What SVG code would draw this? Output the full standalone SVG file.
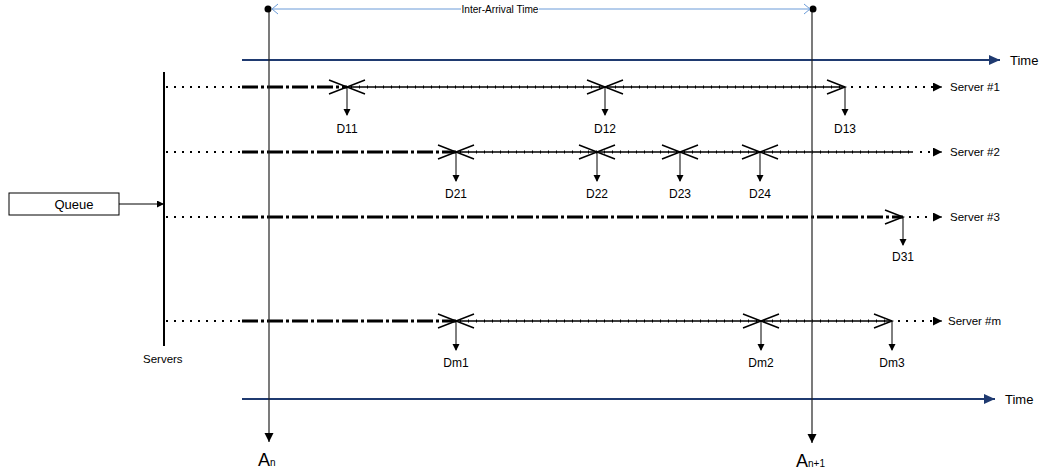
<svg xmlns="http://www.w3.org/2000/svg" width="1047" height="472" viewBox="0 0 1047 472">
<style>
text{font-family:"Liberation Sans",Arial,sans-serif;fill:#000}
.lbl{font-size:11.5px}
.d{font-size:12px;text-anchor:middle}
.dot{stroke:#000;stroke-width:2;stroke-dasharray:2 6;fill:none}
.dd{stroke:#000;stroke-width:3;stroke-dasharray:16 3 3 3;fill:none}
.sol{stroke:#000;stroke-width:1.5;fill:none}
.tk{stroke:#000;stroke-width:3;stroke-dasharray:1 7;fill:none}
.x{stroke:#000;stroke-width:1.5;fill:none}
.dn{stroke:#000;stroke-width:1;fill:none;marker-end:url(#ah)}
.axis{stroke:#1f3a70;stroke-width:2;fill:none;marker-end:url(#nav)}
.vl{stroke:#222;stroke-width:1.2;fill:none;marker-end:url(#big)}
</style>
<defs>
<marker id="ah" markerWidth="8" markerHeight="8" refX="6" refY="3.5" orient="auto" markerUnits="userSpaceOnUse"><path d="M0,0 L7,3.5 L0,7 z" fill="#000"/></marker>
<marker id="big" markerWidth="12" markerHeight="12" refX="9" refY="4.5" orient="auto" markerUnits="userSpaceOnUse"><path d="M0,0 L9,4.5 L0,9 z" fill="#000"/></marker>
<marker id="nav" markerWidth="14" markerHeight="14" refX="11" refY="5" orient="auto" markerUnits="userSpaceOnUse"><path d="M0,0 L11,5 L0,10 z" fill="#1f3a70"/></marker>
<marker id="srv" markerWidth="12" markerHeight="12" refX="9" refY="4.5" orient="auto" markerUnits="userSpaceOnUse"><path d="M0,0 L9,4.5 L0,9 z" fill="#000"/></marker>
</defs>

<g id="queue">
<rect x="9" y="193" width="110" height="22" fill="#fff" stroke="#000" stroke-width="1"/>
<text x="74" y="208.5" font-size="13" text-anchor="middle">Queue</text>
</g>

<g id="servers">
<line x1="164" y1="72" x2="164" y2="346" stroke="#000" stroke-width="2"/>
<text x="143" y="363" class="lbl">Servers</text>
</g>

<g id="time-top">
<line x1="242" y1="60" x2="1000" y2="60" class="axis"/>
<text x="1010" y="65" font-size="13">Time</text>
</g>
<g id="time-bottom">
<line x1="242" y1="399" x2="995" y2="399" class="axis"/>
<text x="1005" y="404" font-size="13">Time</text>
</g>

<g id="server1">
<line x1="166" y1="87" x2="240" y2="87" class="dot"/>
<line x1="242" y1="87" x2="347" y2="87" class="dd"/>
<line x1="347" y1="87" x2="845" y2="87" class="sol"/>
<line x1="351" y1="87" x2="845" y2="87" class="tk"/>
<line x1="851" y1="87" x2="934" y2="87" class="dot"/>
<line x1="934" y1="87" x2="942" y2="87" stroke="#000" stroke-width="1" marker-end="url(#srv)"/>
<text x="950" y="91" class="lbl">Server #1</text>
</g>

<g id="server2">
<line x1="166" y1="152" x2="240" y2="152" class="dot"/>
<line x1="242" y1="152" x2="456" y2="152" class="dd"/>
<line x1="456" y1="152" x2="913" y2="152" class="sol"/>
<line x1="460" y1="152" x2="913" y2="152" class="tk"/>
<line x1="920" y1="152" x2="934" y2="152" class="dot"/>
<line x1="934" y1="152" x2="942" y2="152" stroke="#000" stroke-width="1" marker-end="url(#srv)"/>
<text x="950" y="156" class="lbl">Server #2</text>
</g>

<g id="server3">
<line x1="166" y1="217" x2="240" y2="217" class="dot"/>
<line x1="242" y1="217" x2="903" y2="217" class="dd"/>
<line x1="909" y1="217" x2="934" y2="217" class="dot"/>
<line x1="934" y1="217" x2="942" y2="217" stroke="#000" stroke-width="1" marker-end="url(#srv)"/>
<text x="950" y="221" class="lbl">Server #3</text>
</g>

<g id="serverm">
<line x1="166" y1="321" x2="240" y2="321" class="dot"/>
<line x1="242" y1="321" x2="456" y2="321" class="dd"/>
<line x1="456" y1="321" x2="892" y2="321" class="sol"/>
<line x1="460" y1="321" x2="892" y2="321" class="tk"/>
<line x1="898" y1="321" x2="934" y2="321" class="dot"/>
<line x1="934" y1="321" x2="942" y2="321" stroke="#000" stroke-width="1" marker-end="url(#srv)"/>
<text x="948" y="325" class="lbl">Server #m</text>
</g>

<g id="arrivals">
<line x1="269" y1="9" x2="269" y2="442" class="vl"/>
<circle cx="268" cy="9" r="3.5" fill="#000"/>
<text x="258" y="466" font-size="18">A<tspan font-size="10">n</tspan></text>
<line x1="812" y1="9" x2="812" y2="443" class="vl"/>
<circle cx="813" cy="9" r="3.5" fill="#000"/>
<text x="796" y="467" font-size="18">A<tspan font-size="10">n+1</tspan></text>
</g>

<g id="inter-arrival">
<line x1="272" y1="9" x2="461" y2="9" stroke="#6a9bd8" stroke-width="1"/>
<line x1="539" y1="9" x2="810" y2="9" stroke="#6a9bd8" stroke-width="1"/>
<path d="M278,4 L272,9 L278,14 M804,4 L810,9 L804,14" stroke="#6a9bd8" stroke-width="1" fill="none"/>
<text x="500" y="13" font-size="11" text-anchor="middle" textLength="77" lengthAdjust="spacingAndGlyphs">Inter-Arrival Time</text>
</g>

<g id="connectors">
<line x1="119" y1="204" x2="163" y2="204" stroke="#000" stroke-width="1" marker-end="url(#ah)"/>
<path class="x" d="M329,80 L347,87 L329,94 M365,80 L347,87 L365,94"/>
<path class="x" d="M587,80 L605,87 L587,94 M623,80 L605,87 L623,94"/>
<path class="x" d="M827,80 L845,87 L827,94"/>
<path class="x" d="M438,145 L456,152 L438,159 M474,145 L456,152 L474,159"/>
<path class="x" d="M579,145 L597,152 L579,159 M615,145 L597,152 L615,159"/>
<path class="x" d="M662,145 L680,152 L662,159 M698,145 L680,152 L698,159"/>
<path class="x" d="M742,145 L760,152 L742,159 M778,145 L760,152 L778,159"/>
<path class="x" d="M885,210 L903,217 L885,224"/>
<path class="x" d="M438,314 L456,321 L438,328 M474,314 L456,321 L474,328"/>
<path class="x" d="M743,314 L761,321 L743,328 M779,314 L761,321 L779,328"/>
<path class="x" d="M874,314 L892,321 L874,328"/>
<line x1="347" y1="87" x2="347" y2="115" class="dn"/>
<line x1="605" y1="87" x2="605" y2="115" class="dn"/>
<line x1="845" y1="87" x2="845" y2="115" class="dn"/>
<line x1="456" y1="152" x2="456" y2="181" class="dn"/>
<line x1="597" y1="152" x2="597" y2="181" class="dn"/>
<line x1="680" y1="152" x2="680" y2="181" class="dn"/>
<line x1="760" y1="152" x2="760" y2="181" class="dn"/>
<line x1="903" y1="217" x2="903" y2="245" class="dn"/>
<line x1="456" y1="321" x2="456" y2="350" class="dn"/>
<line x1="761" y1="321" x2="761" y2="350" class="dn"/>
<line x1="892" y1="321" x2="892" y2="350" class="dn"/>
</g>

<g id="departure-labels">
<text x="347" y="133" class="d">D11</text>
<text x="605" y="133" class="d">D12</text>
<text x="845" y="133" class="d">D13</text>
<text x="456" y="198" class="d">D21</text>
<text x="597" y="198" class="d">D22</text>
<text x="680" y="198" class="d">D23</text>
<text x="760" y="198" class="d">D24</text>
<text x="903" y="261" class="d">D31</text>
<text x="456" y="367" class="d">Dm1</text>
<text x="761" y="367" class="d">Dm2</text>
<text x="892" y="367" class="d">Dm3</text>
</g>
</svg>
